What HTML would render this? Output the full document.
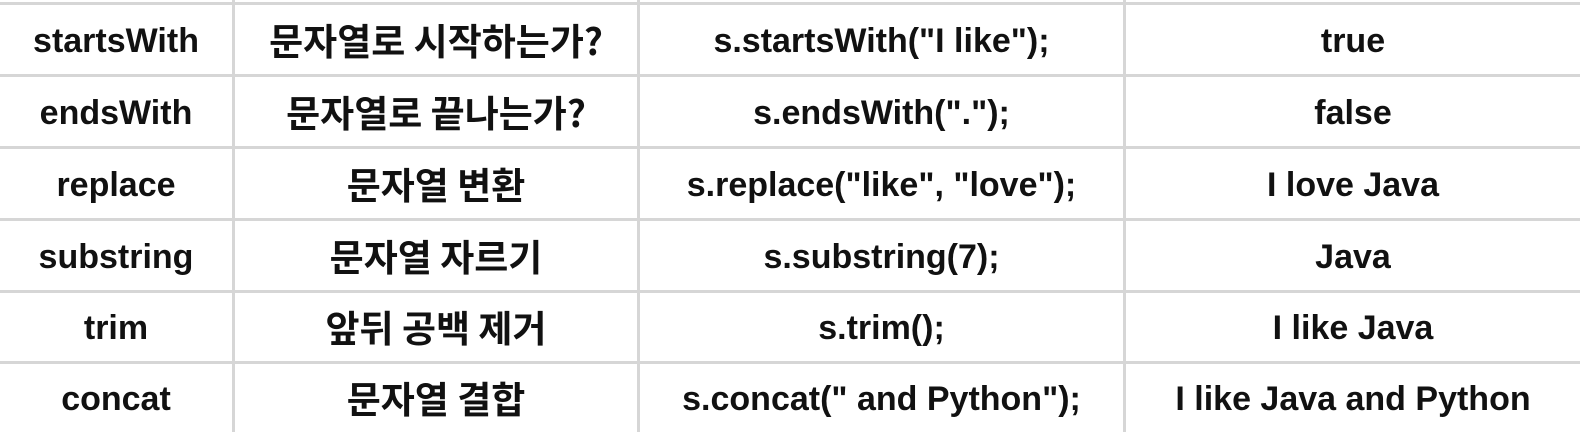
<!DOCTYPE html>
<html><head><meta charset="utf-8"><style>
html,body{margin:0;padding:0;background:#fff;width:1580px;height:432px;overflow:hidden}
.l{position:absolute;background:#d6d6d6}
.t{position:absolute;height:72px;line-height:72px;text-align:center;font-family:"Liberation Sans","NanumGothic","Noto Sans CJK KR",sans-serif;font-weight:bold;font-size:34px;color:#111;white-space:nowrap}
.k{font-size:37px;font-family:"Noto Sans CJK KR","NanumGothic",sans-serif;font-weight:bold;line-height:68px}
</style></head><body>
<div class="l" style="left:232px;top:0;width:3px;height:432px"></div>
<div class="l" style="left:637px;top:0;width:3px;height:432px"></div>
<div class="l" style="left:1123px;top:0;width:3px;height:432px"></div>
<div class="l" style="left:0;top:2px;width:1580px;height:3px"></div>
<div class="l" style="left:0;top:74px;width:1580px;height:3px"></div>
<div class="l" style="left:0;top:146px;width:1580px;height:3px"></div>
<div class="l" style="left:0;top:218px;width:1580px;height:3px"></div>
<div class="l" style="left:0;top:290px;width:1580px;height:3px"></div>
<div class="l" style="left:0;top:361px;width:1580px;height:3px"></div>

<div class="t" style="left:0;width:232px;top:5px">startsWith</div>
<div class="t k" style="left:235px;width:402px;top:5px">문자열로 시작하는가?</div>
<div class="t" style="left:640px;width:483px;top:5px">s.startsWith("I like");</div>
<div class="t" style="left:1126px;width:454px;top:5px">true</div>

<div class="t" style="left:0;width:232px;top:77px">endsWith</div>
<div class="t k" style="left:235px;width:402px;top:77px">문자열로 끝나는가?</div>
<div class="t" style="left:640px;width:483px;top:77px">s.endsWith(".");</div>
<div class="t" style="left:1126px;width:454px;top:77px">false</div>

<div class="t" style="left:0;width:232px;top:149px">replace</div>
<div class="t k" style="left:235px;width:402px;top:149px">문자열 변환</div>
<div class="t" style="left:640px;width:483px;top:149px">s.replace("like", "love");</div>
<div class="t" style="left:1126px;width:454px;top:149px">I love Java</div>

<div class="t" style="left:0;width:232px;top:221px">substring</div>
<div class="t k" style="left:235px;width:402px;top:221px">문자열 자르기</div>
<div class="t" style="left:640px;width:483px;top:221px">s.substring(7);</div>
<div class="t" style="left:1126px;width:454px;top:221px">Java</div>

<div class="t" style="left:0;width:232px;top:292px">trim</div>
<div class="t k" style="left:235px;width:402px;top:292px">앞뒤 공백 제거</div>
<div class="t" style="left:640px;width:483px;top:292px">s.trim();</div>
<div class="t" style="left:1126px;width:454px;top:292px">I like Java</div>

<div class="t" style="left:0;width:232px;top:363px">concat</div>
<div class="t k" style="left:235px;width:402px;top:363px">문자열 결합</div>
<div class="t" style="left:640px;width:483px;top:363px">s.concat(" and Python");</div>
<div class="t" style="left:1126px;width:454px;top:363px">I like Java and Python</div>
</body></html>
